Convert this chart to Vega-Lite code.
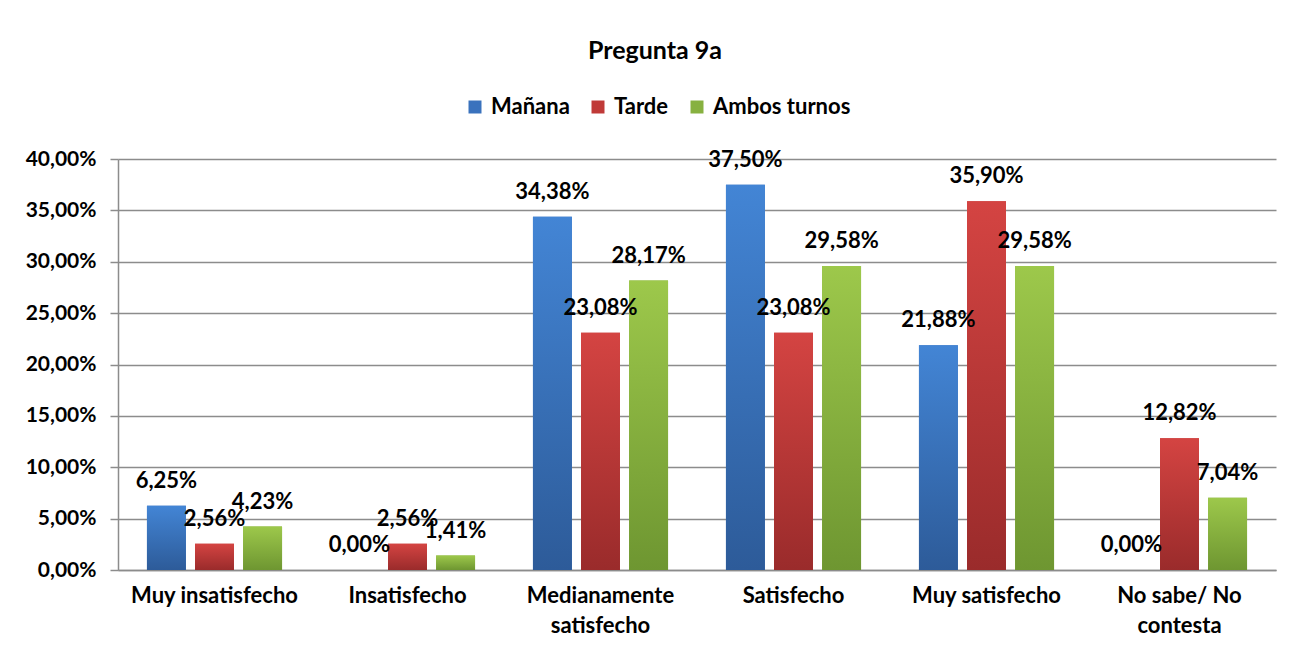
{
  "$schema": "https://vega.github.io/schema/vega-lite/v6.json",
  "autosize": "none",
  "width": 1158,
  "height": 411,
  "padding": {"left": 118, "top": 159, "right": 28, "bottom": 85},
  "background": "white",
  "title": {"text": "Pregunta 9a", "fontSize": 25, "font": "Lato", "fontWeight": "bold", "color": "black", "anchor": "middle", "dx": -42, "offset": 32},
  "config": {
    "locale": {"number": {"decimal": ",", "thousands": ".", "grouping": [3], "currency": ["", " €"]}},
    "font": "Lato",
    "view": {"stroke": null}
  },
  "data": {"values": [
    {"cat": "Muy insatisfecho", "serie": "Mañana", "v": 0.0625},
    {"cat": "Muy insatisfecho", "serie": "Tarde", "v": 0.0256},
    {"cat": "Muy insatisfecho", "serie": "Ambos turnos", "v": 0.0423},
    {"cat": "Insatisfecho", "serie": "Mañana", "v": 0.0},
    {"cat": "Insatisfecho", "serie": "Tarde", "v": 0.0256},
    {"cat": "Insatisfecho", "serie": "Ambos turnos", "v": 0.0141},
    {"cat": "Medianamente satisfecho", "serie": "Mañana", "v": 0.3438},
    {"cat": "Medianamente satisfecho", "serie": "Tarde", "v": 0.2308},
    {"cat": "Medianamente satisfecho", "serie": "Ambos turnos", "v": 0.2817},
    {"cat": "Satisfecho", "serie": "Mañana", "v": 0.375},
    {"cat": "Satisfecho", "serie": "Tarde", "v": 0.2308},
    {"cat": "Satisfecho", "serie": "Ambos turnos", "v": 0.2958},
    {"cat": "Muy satisfecho", "serie": "Mañana", "v": 0.2188},
    {"cat": "Muy satisfecho", "serie": "Tarde", "v": 0.359},
    {"cat": "Muy satisfecho", "serie": "Ambos turnos", "v": 0.2958},
    {"cat": "No sabe/ No contesta", "serie": "Mañana", "v": 0.0},
    {"cat": "No sabe/ No contesta", "serie": "Tarde", "v": 0.1282},
    {"cat": "No sabe/ No contesta", "serie": "Ambos turnos", "v": 0.0704}
  ]},
  "encoding": {
    "x": {
      "field": "cat", "type": "nominal", "sort": null,
      "scale": {"paddingInner": 0.3, "paddingOuter": 0.15},
      "axis": {
        "title": null, "labelAngle": 0, "ticks": false, "domainColor": "#8c8c8c", "domainWidth": 1.5,
        "labelFontSize": 22, "labelFontWeight": "bold", "labelColor": "black", "labelPadding": 15,
        "labelLineHeight": 30, "labelLimit": 0,
        "labelExpr": "datum.value == 'Medianamente satisfecho' ? ['Medianamente', 'satisfecho'] : datum.value == 'No sabe/ No contesta' ? ['No sabe/ No', 'contesta'] : datum.value"
      }
    },
    "xOffset": {
      "field": "serie", "type": "nominal", "sort": ["Mañana", "Tarde", "Ambos turnos"],
      "scale": {"paddingInner": 0.19, "paddingOuter": 0}
    },
    "y": {
      "field": "v", "type": "quantitative",
      "scale": {"domain": [0, 0.4], "nice": false},
      "axis": {
        "title": null, "values": [0, 0.05, 0.1, 0.15, 0.2, 0.25, 0.3, 0.35, 0.4], "format": ".2%",
        "grid": true, "gridColor": "#8c8c8c", "gridWidth": 1.5,
        "domainColor": "#8c8c8c", "domainWidth": 1.5, "tickColor": "#8c8c8c", "tickWidth": 1.5, "tickSize": 8,
        "labelFontSize": 21, "labelFontWeight": "bold", "labelColor": "black", "labelPadding": 14
      }
    }
  },
  "layer": [
    {
      "mark": {"type": "bar"},
      "encoding": {
        "color": {
          "field": "serie", "type": "nominal", "sort": ["Mañana", "Tarde", "Ambos turnos"],
          "scale": {"domain": ["Mañana", "Tarde", "Ambos turnos"], "range": ["#3a72bd", "#c03a38", "#87b140"]},
          "legend": {
            "title": null, "orient": "none", "legendX": 346, "legendY": -63, "direction": "horizontal",
            "symbolType": "square", "symbolSize": 169, "symbolStrokeWidth": 0,
            "labelFontSize": 22, "labelFontWeight": "bold", "labelColor": "black", "labelOffset": 5,
            "columnPadding": 17, "padding": 0
          }
        }
      }
    },
    {
      "mark": {"type": "bar"},
      "encoding": {
        "fill": {
          "condition": [
            {"test": "datum.serie == 'Mañana'", "value": {"gradient": "linear", "x1": 0, "y1": 0, "x2": 0, "y2": 1, "stops": [{"offset": 0, "color": "#4385d5"}, {"offset": 1, "color": "#2d5b99"}]}},
            {"test": "datum.serie == 'Tarde'", "value": {"gradient": "linear", "x1": 0, "y1": 0, "x2": 0, "y2": 1, "stops": [{"offset": 0, "color": "#d44442"}, {"offset": 1, "color": "#9a2b2b"}]}}
          ],
          "value": {"gradient": "linear", "x1": 0, "y1": 0, "x2": 0, "y2": 1, "stops": [{"offset": 0, "color": "#9dc84b"}, {"offset": 1, "color": "#6e9631"}]}
        }
      }
    },
    {
      "mark": {"type": "text", "fontSize": 22, "fontWeight": "bold", "color": "black", "baseline": "alphabetic", "dy": -18},
      "encoding": {
        "text": {"field": "v", "type": "quantitative", "format": ".2%"}
      }
    }
  ]
}
